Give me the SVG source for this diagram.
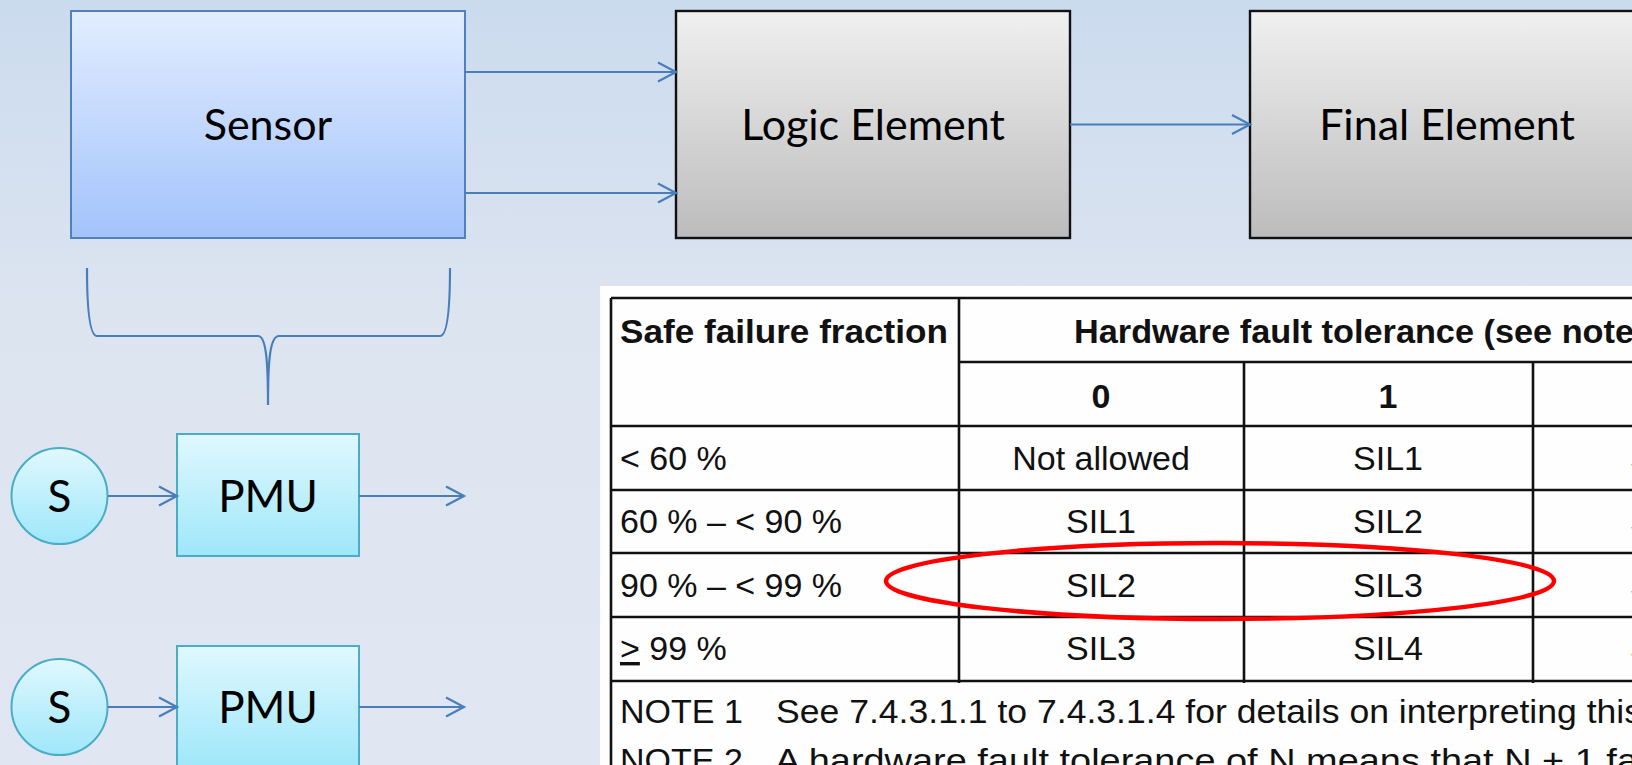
<svg xmlns="http://www.w3.org/2000/svg" width="1632" height="765" viewBox="0 0 1632 765">
<defs>
<linearGradient id="bg" x1="0" y1="0" x2="0" y2="1">
<stop offset="0" stop-color="#cbdbee"/>
<stop offset="0.4" stop-color="#dce4f0"/>
<stop offset="1" stop-color="#e0e7f2"/>
</linearGradient>
<linearGradient id="gSensor" x1="0" y1="0" x2="0" y2="1">
<stop offset="0" stop-color="#e2edff"/>
<stop offset="1" stop-color="#a3c3fb"/>
</linearGradient>
<linearGradient id="gGray" x1="0" y1="0" x2="0" y2="1">
<stop offset="0" stop-color="#f0f0f0"/>
<stop offset="1" stop-color="#bcbcbc"/>
</linearGradient>
<linearGradient id="gPmu" x1="0" y1="0" x2="0" y2="1">
<stop offset="0" stop-color="#e0f8fe"/>
<stop offset="1" stop-color="#9ee7fa"/>
</linearGradient>
<marker id="arr" markerUnits="userSpaceOnUse" markerWidth="22" markerHeight="24" refX="19" refY="11" orient="auto">
<path d="M1,1.5 L19,11 L1,20.5" fill="none" stroke="#4a7ebb" stroke-width="2.2"/>
</marker>
<style>
.lbl{font-family:Lato,"Open Sans",sans-serif;fill:#000;text-anchor:middle}
.tb{font-family:"Liberation Sans",Arial,sans-serif;font-size:34px;fill:#111}
.tbb{font-family:"Liberation Sans",Arial,sans-serif;font-size:34px;font-weight:bold;fill:#111}
.mid{text-anchor:middle}
.conn{stroke:#4a7ebb;stroke-width:2.2;fill:none}
.grid{stroke:#111;stroke-width:2.6;fill:none}
</style>
</defs>
<rect x="0" y="0" width="1632" height="765" fill="url(#bg)"/>

<g id="sensor">
<rect x="71" y="11" width="394" height="227" fill="url(#gSensor)" stroke="#4f81bd" stroke-width="2"/>
<text class="lbl" x="268" y="140" font-size="43">Sensor</text>
</g>
<g id="logic-element">
<rect x="676" y="11" width="394" height="227" fill="url(#gGray)" stroke="#111" stroke-width="2.4"/>
<text class="lbl" x="873" y="140" font-size="43">Logic Element</text>
</g>
<g id="final-element">
<rect x="1250" y="11" width="394" height="227" fill="url(#gGray)" stroke="#111" stroke-width="2.4"/>
<text class="lbl" x="1447" y="140" font-size="43">Final Element</text>
</g>

<g id="brace">
<path class="conn" d="M87,268 C87,305 89,336 97,336 L258,336 C266,336 268,360 268,405 C268,360 270,336 279,336 L440,336 C448,336 450,305 450,268"/>
</g>

<g id="s1">
<circle cx="59.5" cy="496" r="48" fill="url(#gPmu)" stroke="#4bacc6" stroke-width="2"/>
<text class="lbl" x="59.5" y="512" font-size="44">S</text>
</g>
<g id="pmu1">
<rect x="177" y="434" width="182" height="122" fill="url(#gPmu)" stroke="#4bacc6" stroke-width="2"/>
<text class="lbl" x="268" y="512" font-size="44">PMU</text>
</g>
<g id="s2">
<circle cx="59.5" cy="707" r="48" fill="url(#gPmu)" stroke="#4bacc6" stroke-width="2"/>
<text class="lbl" x="59.5" y="723" font-size="44">S</text>
</g>
<g id="pmu2">
<rect x="177" y="646" width="182" height="122" fill="url(#gPmu)" stroke="#4bacc6" stroke-width="2"/>
<text class="lbl" x="268" y="723" font-size="44">PMU</text>
</g>

<g id="connectors">
<line class="conn" x1="465" y1="72" x2="676" y2="72" marker-end="url(#arr)"/>
<line class="conn" x1="465" y1="193" x2="676" y2="193" marker-end="url(#arr)"/>
<line class="conn" x1="1070" y1="124.5" x2="1250" y2="124.5" marker-end="url(#arr)"/>
<line class="conn" x1="108" y1="496" x2="177" y2="496" marker-end="url(#arr)"/>
<line class="conn" x1="359" y1="496" x2="464" y2="496" marker-end="url(#arr)"/>
<line class="conn" x1="108" y1="707" x2="177" y2="707" marker-end="url(#arr)"/>
<line class="conn" x1="359" y1="707" x2="464" y2="707" marker-end="url(#arr)"/>
</g>

<g id="sil-table">
<rect x="600" y="286" width="1040" height="490" fill="#fefefe"/>
<path class="grid" d="M611,298 H1640 M611,298 V770 M959,298 V683 M1244,362 V683 M1533,362 V683 M959,362 H1640 M611,426 H1640 M611,490 H1640 M611,553 H1640 M611,617 H1640 M611,681 H1640"/>
<text class="tbb" x="620" y="343" textLength="328" lengthAdjust="spacingAndGlyphs">Safe failure fraction</text>
<text class="tbb" x="1074" y="343" textLength="560" lengthAdjust="spacingAndGlyphs">Hardware fault tolerance (see note</text>
<text class="tbb mid" x="1101" y="408">0</text>
<text class="tbb mid" x="1388" y="408">1</text>
<text class="tb" x="620" y="470">&lt; 60 %</text>
<text class="tb mid" x="1101" y="470">Not allowed</text>
<text class="tb mid" x="1388" y="470">SIL1</text>
<text class="tb" x="1630" y="470">SIL2</text>
<text class="tb" x="620" y="533">60 % – &lt; 90 %</text>
<text class="tb mid" x="1101" y="533">SIL1</text>
<text class="tb mid" x="1388" y="533">SIL2</text>
<text class="tb" x="1630" y="533">SIL3</text>
<text class="tb" x="620" y="597">90 % – &lt; 99 %</text>
<text class="tb mid" x="1101" y="597">SIL2</text>
<text class="tb mid" x="1388" y="597">SIL3</text>
<text class="tb" x="1630" y="597">SIL4</text>
<text class="tb" x="620" y="660"><tspan text-decoration="underline">&gt;</tspan> 99 %</text>
<text class="tb mid" x="1101" y="660">SIL3</text>
<text class="tb mid" x="1388" y="660">SIL4</text>
<text class="tb" x="1630" y="660">SIL4</text>
<text class="tb" x="620" y="723">NOTE 1</text>
<text class="tb" x="776" y="723" textLength="866" lengthAdjust="spacingAndGlyphs">See 7.4.3.1.1 to 7.4.3.1.4 for details on interpreting this</text>
<text class="tb" x="620" y="772">NOTE 2</text>
<text class="tb" x="775" y="772" textLength="863" lengthAdjust="spacingAndGlyphs">A hardware fault tolerance of N means that N + 1 fa</text>
<ellipse cx="1220" cy="581" rx="334" ry="38" fill="none" stroke="#f00" stroke-width="4.5"/>
</g>
</svg>
